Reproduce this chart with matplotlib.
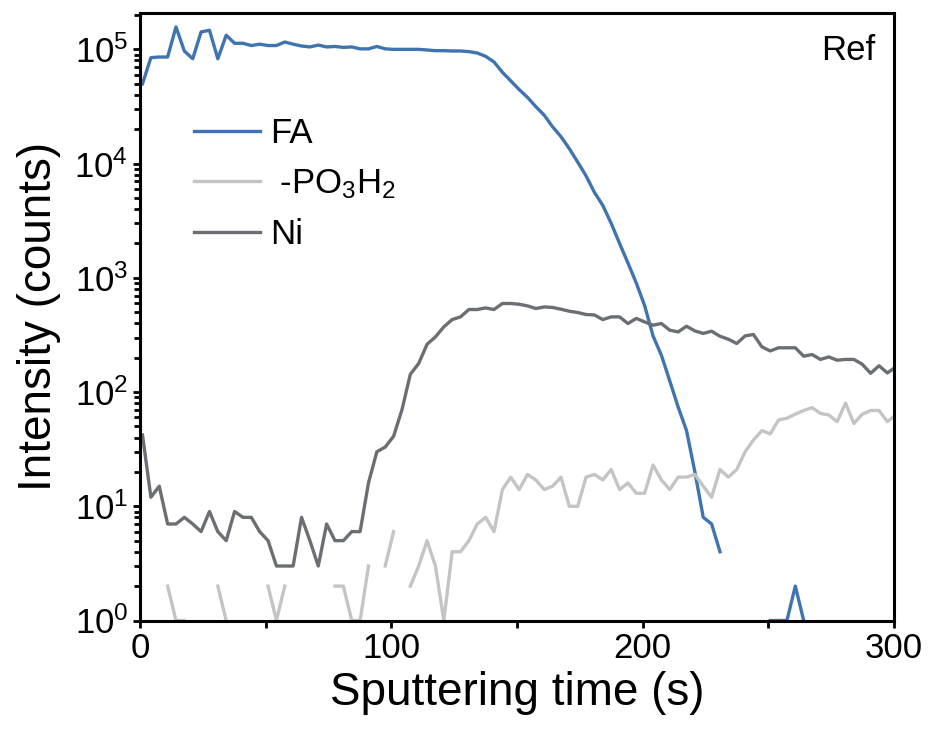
import numpy as np
import matplotlib
matplotlib.use("Agg")
import matplotlib.pyplot as plt
from matplotlib.ticker import MultipleLocator, LogLocator, NullFormatter

plt.rcParams['font.family'] = ['Liberation Sans', 'DejaVu Sans']
plt.rcParams['mathtext.fontset'] = 'custom'
plt.rcParams['mathtext.rm'] = 'Liberation Sans'
plt.rcParams['mathtext.it'] = 'Liberation Sans:italic'
plt.rcParams['mathtext.bf'] = 'Liberation Sans:bold'

nan = np.nan

# sputtering time, one sample every ~3.33 s
t = 1 + np.arange(91) * 3.33

fa = [50000, 84600, 85700, 85700, 157000, 96600, 82800, 142000, 147000, 82800,
      133000, 113000, 113000, 108000, 111000, 108000, 108000, 116000, 111000, 107000,
      105000, 109000, 105000, 106000, 104000, 105000, 101000, 101000, 106000, 101000,
      100000, 100000, 100000, 100000, 98700, 97400, 97400, 96800, 96800, 95500,
      92900, 86900, 77500, 63000, 53000, 44500, 38000, 31500, 26500, 21000,
      17200, 13500, 10300, 7800, 5600, 4300, 3000, 2000, 1350, 900,
      570, 310, 210, 125, 74, 46, 20, 8, 7, 4,
      nan, nan, nan, nan, nan, 1, 1, 1, 2, 1,
      nan, nan, nan, nan, nan, nan, nan, nan, nan, nan, nan]

po3h2 = [nan, nan, nan, 2, 1, 1, nan, nan, nan, 2,
         1, nan, nan, nan, nan, 2, 1, 2, nan, nan,
         nan, nan, nan, 2, 2, 1, 1, 3, nan, 3,
         6, nan, 2, 3, 5, 3, 1, 4, 4, 5,
         7, 8, 6, 14, 18, 14, 19, 17, 14, 15,
         18, 10, 10, 18, 19, 17, 21, 14, 16, 13,
         13, 23, 17, 14, 18, 18, 19, 15, 12, 21,
         18, 21, 30, 38, 46, 43, 57, 59, 64, 69,
         73, 65, 63, 55, 80, 53, 64, 69, 69, 55, 63]

ni = [42, 12, 15, 7, 7, 8, 7, 6, 9, 6,
      5, 9, 8, 8, 6, 5, 3, 3, 3, 8,
      5, 3, 7, 5, 5, 6, 6, 16, 30, 33,
      41, 70, 143, 178, 262, 304, 372, 431, 455, 528,
      528, 545, 528, 596, 596, 587, 568, 539, 556, 550,
      531, 510, 497, 477, 473, 431, 455, 455, 398, 441,
      411, 385, 398, 348, 336, 377, 343, 326, 341, 308,
      290, 266, 310, 319, 249, 229, 244, 244, 244, 206,
      213, 193, 203, 190, 193, 193, 175, 146, 170, 147, 166]

c_fa = '#3f74b0'
c_po = '#c4c4c4'
c_ni = '#6b6e72'

fig = plt.figure(figsize=(9.29, 7.38), dpi=100)
ax = fig.add_axes([0.1507, 0.1592, 0.8116, 0.8238])

lw = 2.4
ax.plot(t, fa, color=c_fa, lw=lw, label='FA')
ax.plot(t, po3h2, color=c_po, lw=lw, label=' -PO$_3$H$_2$')
ax.plot(t, ni, color=c_ni, lw=lw, label='Ni')

ax.set_yscale('log')
ax.set_xlim(0, 300)
ax.set_ylim(1, 2.1e5)

ax.xaxis.set_major_locator(MultipleLocator(100))
ax.xaxis.set_minor_locator(MultipleLocator(50))
ax.yaxis.set_major_locator(LogLocator(base=10, numticks=10))
ax.yaxis.set_minor_locator(LogLocator(base=10, subs=np.arange(2, 10), numticks=10))
ax.yaxis.set_minor_formatter(NullFormatter())

for s in ax.spines.values():
    s.set_linewidth(2.2)

ax.tick_params(axis='both', which='major', direction='out', length=5, width=2,
               labelsize=25, right=False, top=False)
ax.tick_params(axis='both', which='minor', direction='out', length=4, width=2,
               right=False, top=False)
ax.tick_params(axis='x', which='minor', length=5)

ax.set_xlabel('Sputtering time (s)', fontsize=33, labelpad=4)
ax.set_ylabel('Intensity (counts)', fontsize=33, labelpad=10)

ax.text(0.975, 0.965, 'Ref', transform=ax.transAxes, ha='right', va='top', fontsize=25)

leg = ax.legend(loc='upper left', bbox_to_anchor=(0.03, 0.88), frameon=False,
                fontsize=25, handlelength=1.9, handletextpad=0.3, labelspacing=0.5)

fig.savefig('out.png', dpi=100)
